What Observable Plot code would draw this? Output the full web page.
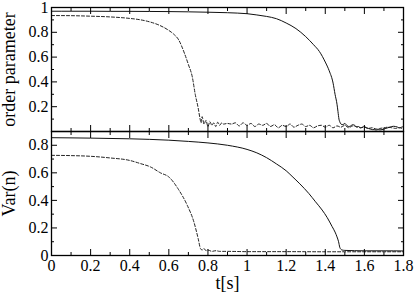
<!DOCTYPE html>
<html><head><meta charset="utf-8">
<script src="https://cdn.jsdelivr.net/npm/d3@7"></script>
<script src="https://cdn.jsdelivr.net/npm/@observablehq/plot@0.6"></script>
<style>
html,body{margin:0;padding:0;background:#fff;}
#chart{position:relative;width:415px;height:293px;}
#chart svg{position:absolute;left:0;overflow:visible;}
#chart svg text{font-family:"Liberation Serif","Times New Roman",Times,"DejaVu Serif",serif !important;fill:#000;}
</style></head><body><div id="chart"></div>
<script>
// ---- data ----
const xTicks = [0, 0.2, 0.4, 0.6, 0.8, 1, 1.2, 1.4, 1.6, 1.8];
const xMinorTicks = [0.1, 0.3, 0.5, 0.7, 0.9, 1.1, 1.3, 1.5, 1.7];
const orderTicks = [0.2, 0.4, 0.6, 0.8, 1];
const orderMinorTicks = [0.1, 0.3, 0.5, 0.7, 0.9];
const varTicks = [0, 0.2, 0.4, 0.6, 0.8];
const varMinorTicks = [0.1, 0.3, 0.5, 0.7];

// order parameter, solid run
const tOrderSolid = [0, 0.1, 0.2, 0.3, 0.4, 0.5, 0.6, 0.7, 0.8, 0.9, 0.95, 1.0, 1.05, 1.1, 1.15, 1.2, 1.25, 1.3, 1.34, 1.37, 1.4, 1.42, 1.44, 1.45, 1.46, 1.465, 1.47, 1.475, 1.48,
  1.49, 1.5, 1.51, 1.52, 1.53, 1.54, 1.55, 1.56, 1.57, 1.58, 1.59, 1.6, 1.61, 1.62, 1.63, 1.64, 1.65, 1.66, 1.67, 1.68, 1.69, 1.7, 1.71, 1.72, 1.73, 1.74, 1.75, 1.76, 1.77, 1.78, 1.79, 1.8];
const orderSolid = [0.97, 0.97, 0.97, 0.969, 0.969, 0.968, 0.967, 0.965, 0.962, 0.958, 0.955, 0.95, 0.94, 0.928, 0.91, 0.875, 0.83, 0.765, 0.7, 0.645, 0.56, 0.49, 0.39, 0.3, 0.22, 0.16, 0.1, 0.075, 0.06,
  0.055, 0.065, 0.05, 0.04, 0.045, 0.055, 0.05, 0.035, 0.04, 0.03, 0.035, 0.04, 0.03, 0.025, 0.02, 0.015, 0.015, 0.012, 0.015, 0.013, 0.015, 0.02, 0.025, 0.03, 0.035, 0.04, 0.042, 0.04, 0.035, 0.03, 0.035, 0.04];

// order parameter, dashed run
const tOrderDashed = [0, 0.1, 0.2, 0.3, 0.4, 0.45, 0.5, 0.55, 0.6, 0.625, 0.65, 0.68, 0.7, 0.72, 0.735, 0.75, 0.76, 0.765,
  0.77, 0.78, 0.79, 0.8, 0.81, 0.82, 0.83, 0.84, 0.85, 0.86, 0.87, 0.88, 0.9, 0.92, 0.94, 0.96, 0.98, 1.0, 1.02, 1.04, 1.06, 1.08, 1.1, 1.12, 1.14, 1.16, 1.18, 1.2, 1.22, 1.24, 1.26, 1.28, 1.3, 1.32, 1.34, 1.36, 1.38, 1.4, 1.42, 1.44, 1.46, 1.48, 1.5, 1.52, 1.54, 1.56, 1.58, 1.6, 1.62, 1.64, 1.66, 1.68, 1.7, 1.72, 1.74, 1.76, 1.78, 1.8];
const orderDashed = [0.935, 0.934, 0.93, 0.924, 0.912, 0.902, 0.885, 0.858, 0.815, 0.785, 0.74, 0.63, 0.54, 0.44, 0.3, 0.19, 0.1, 0.07,
  0.12, 0.06, 0.09, 0.04, 0.08, 0.05, 0.07, 0.04, 0.075, 0.05, 0.07, 0.06, 0.065, 0.06, 0.07, 0.045, 0.07, 0.05, 0.065, 0.04, 0.06, 0.05, 0.065, 0.04, 0.055, 0.03, 0.05, 0.04, 0.06, 0.035, 0.05, 0.06, 0.04, 0.05, 0.03, 0.045, 0.05, 0.035, 0.05, 0.03, 0.045, 0.035, 0.05, 0.03, 0.045, 0.04, 0.03, 0.035, 0.025, 0.03, 0.02, 0.025, 0.03, 0.035, 0.03, 0.025, 0.03, 0.02];

// Var(n), solid run
const tVarSolid = [0, 0.2, 0.4, 0.5, 0.6, 0.7, 0.8, 0.9, 1.0, 1.05, 1.1, 1.15, 1.2, 1.23, 1.27, 1.316, 1.35, 1.384, 1.41, 1.435, 1.45, 1.46, 1.468, 1.474, 1.48, 1.486, 1.5, 1.55, 1.6, 1.7, 1.8];
const varSolid = [0.855, 0.852, 0.847, 0.843, 0.837, 0.828, 0.817, 0.8, 0.77, 0.745, 0.71, 0.665, 0.615, 0.575, 0.52, 0.45, 0.39, 0.33, 0.275, 0.21, 0.17, 0.135, 0.1, 0.06, 0.045, 0.04, 0.037, 0.035, 0.034, 0.034, 0.033];

// Var(n), dashed run
const tVarDashed = [0, 0.1, 0.2, 0.3, 0.4, 0.455, 0.506, 0.557, 0.6, 0.65, 0.694, 0.728, 0.75, 0.762, 0.77, 0.78, 0.79, 0.8, 0.82, 0.84, 0.86, 0.9, 1.0, 1.2, 1.4, 1.6, 1.8];
const varDashed = [0.727, 0.725, 0.72, 0.708, 0.69, 0.667, 0.643, 0.6, 0.57, 0.478, 0.365, 0.244, 0.123, 0.05, 0.04, 0.05, 0.035, 0.04, 0.03, 0.035, 0.03, 0.03, 0.028, 0.028, 0.027, 0.027, 0.027];

const xLabel = "t[s]";
const orderLabel = "order parameter";
const varLabel = "Var(n)";

// ---- drawing ----
const W = 415, ML = 51, MR = 12;
const FONT = "'Liberation Serif', 'Times New Roman', Times, 'DejaVu Serif', serif";
const zip = (ts, vs) => ts.map((t, i) => ({t, v: vs[i]}));
const fmt = d => String(d);

function tickMarks(yMajor, yMinor) {
  const none = () => "";
  return [
    Plot.axisX(xTicks, {anchor: "bottom", tickSize: -6, tickFormat: none, label: null}),
    Plot.axisX(xMinorTicks, {anchor: "bottom", tickSize: -3, tickFormat: none, label: null}),
    Plot.axisX(xTicks, {anchor: "top", tickSize: -6, tickFormat: none, label: null}),
    Plot.axisX(xMinorTicks, {anchor: "top", tickSize: -3, tickFormat: none, label: null}),
    Plot.axisY(yMajor, {anchor: "left", tickSize: -6, tickFormat: none, label: null}),
    Plot.axisY(yMinor, {anchor: "left", tickSize: -3, tickFormat: none, label: null}),
    Plot.axisY(yMajor, {anchor: "right", tickSize: -6, tickFormat: none, label: null}),
    Plot.axisY(yMinor, {anchor: "right", tickSize: -3, tickFormat: none, label: null})
  ];
}

function panel({height, marginTop, marginBottom, yDomain, yMajor, yMinor, solid, dashed, ylabel, bottom}) {
  const marks = [
    Plot.line(dashed, {x: "t", y: "v", stroke: "#222", strokeWidth: 1, strokeDasharray: "3,2", curve: "monotone-x"}),
    Plot.line(solid, {x: "t", y: "v", stroke: "#111", strokeWidth: 1, curve: "monotone-x"}),
    Plot.frame({stroke: "#000", strokeWidth: 1.3}),
    ...tickMarks(yMajor, yMinor),
    Plot.axisY(yMajor, {anchor: "left", tickSize: 0, tickPadding: 3, tickFormat: fmt, label: null, fontSize: 16, fontFamily: FONT}),
    Plot.text([ylabel], {text: d => d, frameAnchor: "left", rotate: -90, dx: -42, textAnchor: "middle", lineAnchor: "middle", fontSize: 18, fontFamily: FONT})
  ];
  if (bottom) {
    marks.push(Plot.axisX(xTicks, {anchor: "bottom", tickSize: 0, tickPadding: 4, tickFormat: fmt, label: null, fontSize: 16, fontFamily: FONT}));
    marks.push(Plot.text([xLabel], {text: d => d, frameAnchor: "bottom", dy: 28, textAnchor: "middle", lineAnchor: "middle", fontSize: 18, fontFamily: FONT}));
  }
  return Plot.plot({
    width: W, height, marginLeft: ML, marginRight: MR, marginTop, marginBottom,
    x: {domain: [0, 1.8], axis: null},
    y: {domain: yDomain, axis: null},
    style: {fontFamily: FONT, background: "transparent", color: "#000"},
    marks
  });
}

const chartDiv = document.getElementById("chart");
const topPanel = panel({height: 131, marginTop: 7, marginBottom: 0, yDomain: [0, 1],
  yMajor: orderTicks, yMinor: orderMinorTicks,
  solid: zip(tOrderSolid, orderSolid), dashed: zip(tOrderDashed, orderDashed),
  ylabel: orderLabel, bottom: false});
topPanel.style.top = "0px";
const bottomPanel = panel({height: 162, marginTop: 0, marginBottom: 38, yDomain: [0, 0.9],
  yMajor: varTicks, yMinor: varMinorTicks,
  solid: zip(tVarSolid, varSolid), dashed: zip(tVarDashed, varDashed),
  ylabel: varLabel, bottom: true});
bottomPanel.style.top = "131px";
chartDiv.appendChild(topPanel);
chartDiv.appendChild(bottomPanel);
</script></body></html>
